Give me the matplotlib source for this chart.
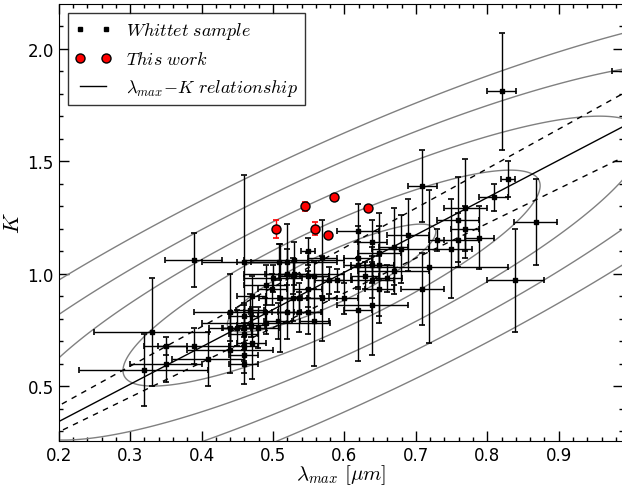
import numpy as np
import matplotlib
matplotlib.use('Agg')
from matplotlib import pyplot as plt
from matplotlib.lines import Line2D

# Whittet sample: lambda_max [um], K, errors
wh_lam = [0.820, 1.020, 0.709, 0.829, 0.809, 0.868, 0.839, 0.769, 0.759, 0.769,
          0.789, 0.759, 0.749, 0.729, 0.719, 0.709, 0.689, 0.679, 0.669, 0.669,
          0.649, 0.649, 0.639, 0.639, 0.639, 0.649, 0.629, 0.660, 0.639, 0.619,
          0.619, 0.619, 0.619, 0.599, 0.590, 0.579, 0.569, 0.569, 0.389, 0.460,
          0.549, 0.509, 0.519, 0.528, 0.549, 0.558, 0.490, 0.510, 0.499, 0.528,
          0.537, 0.549, 0.468, 0.489, 0.507, 0.519, 0.537, 0.549, 0.558, 0.440,
          0.440, 0.449, 0.460, 0.469, 0.479, 0.459, 0.459, 0.440, 0.459, 0.459,
          0.459, 0.470, 0.389, 0.409, 0.330, 0.319, 0.350, 0.350, 0.530, 0.500,
          0.470, 0.530, 0.520, 0.490]
wh_K = [1.81, 1.90, 1.39, 1.42, 1.34, 1.23, 0.97, 1.29, 1.24, 1.20,
        1.16, 1.15, 1.11, 1.15, 1.03, 0.93, 1.17, 1.11, 1.12, 1.01,
        1.04, 0.93, 0.86, 1.04, 1.14, 1.09, 0.99, 0.98, 0.97, 1.19,
        1.04, 0.84, 1.07, 0.89, 0.97, 0.97, 1.07, 0.89, 1.06, 1.05,
        1.10, 1.05, 1.00, 0.99, 0.99, 0.99, 0.95, 0.89, 0.93, 0.89,
        0.89, 0.93, 0.84, 0.83, 0.79, 0.83, 0.83, 0.83, 0.79, 0.83,
        0.76, 0.76, 0.76, 0.77, 0.76, 0.81, 0.73, 0.66, 0.68, 0.64,
        0.60, 0.69, 0.68, 0.62, 0.74, 0.57, 0.60, 0.68, 1.06, 0.98,
        0.90, 1.00, 1.05, 0.78]
wh_lam_err = [0.02, 0.045, 0.02, 0.01, 0.02, 0.03, 0.04, 0.03, 0.03, 0.02,
              0.02, 0.03, 0.03, 0.01, 0.11, 0.03, 0.03, 0.04, 0.02, 0.05,
              0.02, 0.02, 0.05, 0.03, 0.02, 0.03, 0.02, 0.02, 0.03, 0.03,
              0.02, 0.02, 0.02, 0.02, 0.02, 0.02, 0.02, 0.02, 0.04, 0.06,
              0.01, 0.04, 0.03, 0.02, 0.03, 0.02, 0.03, 0.03, 0.02, 0.02,
              0.03, 0.02, 0.02, 0.03, 0.02, 0.02, 0.03, 0.02, 0.02, 0.05,
              0.03, 0.02, 0.03, 0.02, 0.03, 0.02, 0.02, 0.06, 0.02, 0.02,
              0.02, 0.02, 0.05, 0.05, 0.08, 0.09, 0.05, 0.03, 0.07, 0.04,
              0.02, 0.07, 0.07, 0.09]
wh_K_err = [0.26, 0.10, 0.16, 0.08, 0.06, 0.19, 0.23, 0.22, 0.19, 0.10,
            0.14, 0.12, 0.22, 0.05, 0.34, 0.16, 0.16, 0.15, 0.17, 0.10,
            0.23, 0.15, 0.22, 0.08, 0.10, 0.12, 0.06, 0.06, 0.08, 0.12,
            0.10, 0.23, 0.14, 0.07, 0.05, 0.06, 0.17, 0.19, 0.12, 0.39,
            0.06, 0.08, 0.22, 0.08, 0.10, 0.06, 0.09, 0.24, 0.07, 0.10,
            0.07, 0.08, 0.07, 0.06, 0.08, 0.12, 0.09, 0.10, 0.20, 0.17,
            0.06, 0.08, 0.10, 0.05, 0.09, 0.06, 0.05, 0.10, 0.07, 0.08,
            0.09, 0.16, 0.08, 0.12, 0.24, 0.16, 0.08, 0.04, 0.08, 0.06,
            0.09, 0.05, 0.06, 0.05]

# This work
tw_lam = [0.504, 0.545, 0.559, 0.577, 0.586, 0.633]
tw_K = [1.20, 1.30, 1.20, 1.17, 1.34, 1.29]
tw_K_err = [0.04, 0.02, 0.03, 0.0, 0.0, 0.0]

# lambda_max - K relationship and its bounds (slope, intercept)
rel = (1.66, 0.01)
rel_up = (1.757, 0.061)
rel_lo = (1.545, -0.013)

# 2D gaussian of the Whittet sample, contours at n sigma
g_mean = (0.582, 0.98)
g_sig = (0.146, 0.24)
g_rho = 0.856
g_levels = [1, 2, 3, 4, 5]

plt.rcParams['mathtext.fontset'] = 'cm'
plt.rcParams['font.size'] = 12
plt.rcParams['xtick.direction'] = 'in'
plt.rcParams['ytick.direction'] = 'in'
plt.rcParams['xtick.top'] = True
plt.rcParams['ytick.right'] = True

fig = plt.figure(figsize=(6.22, 4.89), dpi=100)
ax = fig.add_axes([0.0944, 0.0967, 0.9072, 0.8937])

xmin, xmax = 0.2, 0.99
ymin, ymax = 0.257, 2.2

# contours
gx, gy = np.meshgrid(np.linspace(0.0, 1.3, 500), np.linspace(0.0, 2.6, 500))
u = (gx - g_mean[0]) / g_sig[0]
v = (gy - g_mean[1]) / g_sig[1]
q = (u**2 - 2 * g_rho * u * v + v**2) / (1 - g_rho**2)
ax.contour(gx, gy, q, levels=[n**2 for n in g_levels], colors='gray',
           linewidths=1.0)

xx = np.array([0.15, 1.05])
ax.plot(xx, rel[0] * xx + rel[1], 'k-', lw=1.0)
ax.plot(xx, rel_up[0] * xx + rel_up[1], 'k--', lw=1.0, dashes=(4, 4))
ax.plot(xx, rel_lo[0] * xx + rel_lo[1], 'k--', lw=1.0, dashes=(4, 4))

ax.errorbar(wh_lam, wh_K, xerr=wh_lam_err, yerr=wh_K_err, fmt='s',
            color='k', ms=2.5, ecolor='k', elinewidth=1.0, capsize=2.2,
            capthick=1.2, zorder=3)
ax.errorbar(tw_lam, tw_K, yerr=tw_K_err, fmt='o', mfc='red', mec='k',
            ms=6.5, ecolor='red', elinewidth=1.0, capsize=2.2, capthick=1.2,
            zorder=4)

ax.set_xlim(xmin, xmax)
ax.set_ylim(ymin, ymax)
ax.set_xticks(np.arange(0.2, 0.95, 0.1))
ax.set_xticks(np.arange(0.2, 0.99, 0.02), minor=True)
ax.set_yticks([0.5, 1.0, 1.5, 2.0])
ax.set_yticks(np.arange(0.3, 2.2, 0.1), minor=True)
ax.tick_params(which='major', length=7, width=1)
ax.tick_params(which='minor', length=3, width=1)
ax.set_xlabel(r'$\lambda_{max}\ [\mu m]$', fontsize=15, labelpad=-1)
ax.set_ylabel(r'$K$', fontsize=16, labelpad=3)

handles = [
    Line2D([], [], ls='none', marker='s', color='k', ms=2.5),
    Line2D([], [], ls='none', marker='o', mfc='red', mec='k', ms=6.5),
    Line2D([], [], ls='-', color='k', lw=1.0),
]
labels = [r'$Whittet\ sample$', r'$This\ work$',
          r'$\lambda_{max}\!-\!K\ relationship$']
leg = ax.legend(handles, labels, loc='upper left', numpoints=2,
                fancybox=False, fontsize=13, handlelength=2.0,
                borderaxespad=0.5)
leg.get_frame().set_edgecolor('k')

fig.savefig('out.png', dpi=100)
